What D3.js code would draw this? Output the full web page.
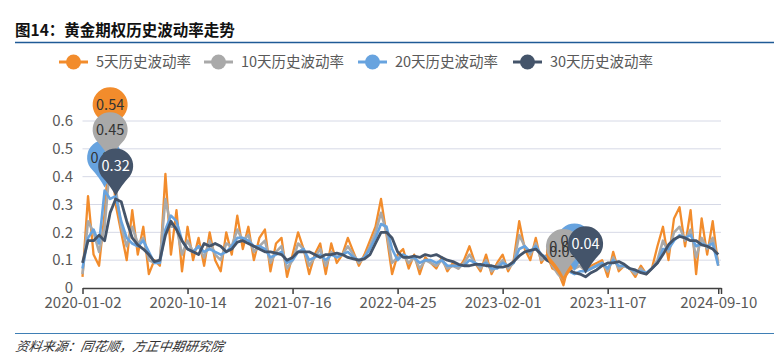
<!DOCTYPE html>
<html>
<head>
<meta charset="utf-8">
<script src="https://cdn.jsdelivr.net/npm/d3@7"></script>
<style>
  body { margin: 0; background: #fff; }
  svg { display: block; font-family: "Noto Sans CJK SC", "Noto Sans", sans-serif; }
</style>
</head>
<body>
<svg width="784" height="360"></svg>
<script>
// Chart data (sampled about every 10 trading days)
const seriesNames = ["5天历史波动率", "10天历史波动率", "20天历史波动率", "30天历史波动率"]
const seriesColors = ["#f28c2c", "#a9a9a9", "#67a3df", "#44546a"]

const dateLabels = ["2020-01-02", "2020-10-14", "2021-07-16", "2022-04-25", "2023-02-01", "2023-11-07", "2024-09-10"]
const dateLabelIndex = [0, 19, 38, 57, 76, 95, 115]

const yTicks = [0, 0.1, 0.2, 0.3, 0.4, 0.5, 0.6]

const vol5 = [0.04, 0.33, 0.12, 0.08, 0.27, 0.54, 0.30, 0.20, 0.10, 0.28,
    0.12, 0.22, 0.05, 0.10, 0.08, 0.41, 0.12, 0.28, 0.06, 0.22,
    0.10, 0.18, 0.08, 0.20, 0.10, 0.06, 0.20, 0.12, 0.26, 0.14,
    0.22, 0.10, 0.18, 0.21, 0.06, 0.16, 0.18, 0.04, 0.12, 0.20,
    0.14, 0.05, 0.12, 0.16, 0.05, 0.16, 0.09, 0.12, 0.18, 0.13,
    0.08, 0.12, 0.17, 0.22, 0.32, 0.19, 0.05, 0.12, 0.14, 0.07,
    0.12, 0.05, 0.11, 0.09, 0.07, 0.11, 0.06, 0.09, 0.07, 0.10,
    0.15, 0.09, 0.06, 0.12, 0.05, 0.09, 0.12, 0.06, 0.10, 0.24,
    0.14, 0.10, 0.18, 0.09, 0.12, 0.07, 0.06, 0.01, 0.09, 0.07,
    0.10, 0.06, 0.08, 0.09, 0.10, 0.04, 0.13, 0.06, 0.08, 0.07,
    0.04, 0.08, 0.05, 0.07, 0.15, 0.22, 0.10, 0.25, 0.29, 0.15,
    0.28, 0.05, 0.25, 0.12, 0.24, 0.08]

const vol10 = [0.05, 0.24, 0.20, 0.13, 0.22, 0.45, 0.36, 0.22, 0.15, 0.22,
    0.16, 0.18, 0.10, 0.09, 0.10, 0.32, 0.22, 0.22, 0.12, 0.17,
    0.13, 0.15, 0.11, 0.17, 0.12, 0.10, 0.16, 0.15, 0.21, 0.17,
    0.19, 0.13, 0.15, 0.17, 0.09, 0.13, 0.15, 0.07, 0.10, 0.16,
    0.14, 0.08, 0.11, 0.14, 0.08, 0.13, 0.11, 0.12, 0.15, 0.12,
    0.09, 0.11, 0.15, 0.20, 0.27, 0.20, 0.09, 0.11, 0.12, 0.09,
    0.11, 0.07, 0.10, 0.09, 0.08, 0.10, 0.07, 0.08, 0.07, 0.09,
    0.12, 0.09, 0.07, 0.10, 0.06, 0.08, 0.10, 0.07, 0.09, 0.19,
    0.15, 0.12, 0.16, 0.10, 0.11, 0.08, 0.05, 0.03, 0.07, 0.07,
    0.08, 0.06, 0.07, 0.08, 0.09, 0.06, 0.11, 0.07, 0.08, 0.07,
    0.05, 0.07, 0.05, 0.07, 0.10, 0.17, 0.13, 0.20, 0.22, 0.17,
    0.21, 0.11, 0.18, 0.14, 0.18, 0.09]

const vol20 = [0.07, 0.18, 0.21, 0.16, 0.35, 0.32, 0.33, 0.24, 0.18, 0.16,
    0.15, 0.17, 0.13, 0.09, 0.09, 0.21, 0.26, 0.24, 0.17, 0.14,
    0.13, 0.15, 0.13, 0.14, 0.13, 0.12, 0.13, 0.15, 0.18, 0.18,
    0.17, 0.15, 0.15, 0.14, 0.11, 0.12, 0.13, 0.09, 0.10, 0.13,
    0.14, 0.10, 0.11, 0.12, 0.10, 0.12, 0.11, 0.12, 0.13, 0.11,
    0.10, 0.11, 0.14, 0.18, 0.23, 0.22, 0.14, 0.10, 0.12, 0.11,
    0.11, 0.09, 0.10, 0.10, 0.09, 0.10, 0.08, 0.08, 0.08, 0.08,
    0.10, 0.09, 0.08, 0.09, 0.07, 0.07, 0.09, 0.08, 0.09, 0.14,
    0.15, 0.13, 0.15, 0.12, 0.11, 0.09, 0.07, 0.06, 0.06, 0.05,
    0.06, 0.06, 0.07, 0.08, 0.09, 0.07, 0.10, 0.08, 0.08, 0.07,
    0.06, 0.06, 0.055, 0.07, 0.09, 0.14, 0.14, 0.17, 0.19, 0.18,
    0.19, 0.15, 0.16, 0.15, 0.16, 0.08]

const vol30 = [0.09, 0.17, 0.17, 0.19, 0.17, 0.27, 0.32, 0.31, 0.24, 0.18,
    0.155, 0.14, 0.12, 0.095, 0.10, 0.19, 0.24, 0.21, 0.17, 0.14,
    0.13, 0.12, 0.16, 0.15, 0.16, 0.15, 0.13, 0.14, 0.165, 0.17,
    0.16, 0.15, 0.14, 0.13, 0.13, 0.125, 0.12, 0.10, 0.11, 0.13,
    0.13, 0.13, 0.12, 0.11, 0.12, 0.12, 0.125, 0.12, 0.11, 0.105,
    0.10, 0.105, 0.12, 0.16, 0.20, 0.20, 0.18, 0.13, 0.11, 0.11,
    0.115, 0.11, 0.12, 0.115, 0.12, 0.11, 0.10, 0.095, 0.085, 0.08,
    0.08, 0.085, 0.085, 0.08, 0.08, 0.075, 0.075, 0.08, 0.095, 0.115,
    0.13, 0.135, 0.14, 0.12, 0.10, 0.09, 0.08, 0.07, 0.065, 0.055,
    0.05, 0.04, 0.055, 0.065, 0.08, 0.09, 0.09, 0.095, 0.085, 0.07,
    0.065, 0.055, 0.05, 0.07, 0.09, 0.12, 0.155, 0.175, 0.185, 0.18,
    0.17, 0.17, 0.155, 0.15, 0.14, 0.12]

const seriesValues = [vol5, vol10, vol20, vol30]

// Layout
const svg = d3.select("svg")
const plotLeft = 82.5
const plotRight = 721
const plotTop = 121
const plotBottom = 288

const x = d3.scaleLinear().domain([0, 115.5]).range([plotLeft, plotRight])
const y = d3.scaleLinear().domain([0, 0.6]).range([plotBottom, plotTop])

// Title and frame lines
svg.append("text")
    .attr("x", 15)
    .attr("y", 36)
    .attr("font-size", 15.5)
    .attr("font-weight", "bold")
    .attr("fill", "#111")
    .text("图14：黄金期权历史波动率走势")

svg.append("line")
    .attr("x1", 15).attr("x2", 774)
    .attr("y1", 42.5).attr("y2", 42.5)
    .attr("stroke", "#1f5a96")
    .attr("stroke-width", 1.5)

svg.append("line")
    .attr("x1", 15).attr("x2", 774)
    .attr("y1", 333.5).attr("y2", 333.5)
    .attr("stroke", "#3f7fb5")
    .attr("stroke-width", 1)

svg.append("text")
    .attr("x", 15)
    .attr("y", 351)
    .attr("font-size", 13)
    .attr("font-style", "italic")
    .attr("fill", "#333")
    .attr("transform", "skewX(-10) translate(62,0)")
    .text("资料来源：同花顺，方正中期研究院")

// Legend
const legendX = [59, 204, 358, 513]
const legend = svg.append("g")
seriesNames.forEach((name, i) => {
    const g = legend.append("g").attr("transform", `translate(${legendX[i]},62)`)
    g.append("line")
        .attr("x1", 0).attr("x2", 29)
        .attr("stroke", seriesColors[i])
        .attr("stroke-width", 3)
    g.append("circle")
        .attr("cx", 14.5)
        .attr("r", 7.5)
        .attr("fill", seriesColors[i])
    g.append("text")
        .attr("x", 37)
        .attr("dy", "0.35em")
        .attr("font-size", 14.5)
        .attr("fill", "#595959")
        .text(name)
})

// Grid
svg.append("g")
    .selectAll("line")
    .data(yTicks.slice(1))
    .enter()
    .append("line")
    .attr("x1", plotLeft).attr("x2", plotRight)
    .attr("y1", d => y(d)).attr("y2", d => y(d))
    .attr("stroke", "#d6d9e6")
    .attr("stroke-width", 1)

// Y axis labels
svg.append("g")
    .selectAll("text")
    .data(yTicks)
    .enter()
    .append("text")
    .attr("x", 73)
    .attr("y", d => y(d))
    .attr("dy", "0.35em")
    .attr("text-anchor", "end")
    .attr("font-size", 15)
    .attr("fill", "#595959")
    .text(d => d === 0 ? "0" : d.toFixed(1))

// Lines
const lineGen = d3.line()
    .x((d, i) => x(i))
    .y(d => y(d))

const lineWidths = [2.3, 2.6, 2.6, 2.8]
svg.append("g")
    .selectAll("path")
    .data(seriesValues)
    .enter()
    .append("path")
    .attr("d", d => lineGen(d))
    .attr("fill", "none")
    .attr("stroke", (d, i) => seriesColors[i])
    .attr("stroke-width", (d, i) => lineWidths[i])
    .attr("stroke-linejoin", "round")

// X axis
const xAxis = d3.axisBottom(x)
    .tickValues(dateLabelIndex.concat([115.5]))
    .tickFormat(d => {
        const k = dateLabelIndex.indexOf(d)
        return k >= 0 ? dateLabels[k] : ""
    })
    .tickSize(6)
    .tickSizeOuter(0)

const xAxisG = svg.append("g")
    .attr("transform", `translate(0,${plotBottom})`)
    .call(xAxis)
xAxisG.select(".domain").attr("stroke", "#404040").attr("stroke-width", 1.5)
xAxisG.selectAll(".tick line").attr("stroke", "#404040").attr("stroke-width", 1.5)
xAxisG.selectAll(".tick text")
    .attr("font-size", 15)
    .attr("font-family", "'Noto Sans CJK SC', 'Noto Sans', sans-serif")
    .attr("fill", "#595959")
    .attr("dy", "0.75em")

// Max / min pins
function pinPath(cx, tipY) {
    const r = 17.5
    const cy = tipY - 30
    const tx = 14.2, ty = 10.2
    return `M${cx},${tipY}` +
        `Q${cx + 5},${cy + 20} ${cx + tx},${cy + ty}` +
        `A${r},${r} 0 1 0 ${cx - tx},${cy + ty}` +
        `Q${cx - 5},${cy + 20} ${cx},${tipY}Z`
}

const pins = seriesValues.map((vals, s) => {
    const maxI = d3.maxIndex(vals)
    const minI = d3.minIndex(vals)
    return [maxI, minI].map(i => ({ s: s, i: i, v: vals[i] }))
})

const pinLayer = svg.append("g")
function drawPins(list) {
    pinLayer.append("g")
        .selectAll("path")
        .data(list)
        .enter()
        .append("path")
        .attr("d", p => pinPath(x(p.i), y(p.v) - 3))
        .attr("fill", p => seriesColors[p.s])
}
function drawPinLabels(list) {
    pinLayer.append("g")
        .selectAll("text")
        .data(list)
        .enter()
        .append("text")
        .attr("x", p => x(p.i))
        .attr("y", p => y(p.v) - 33)
        .attr("dy", "0.35em")
        .attr("text-anchor", "middle")
        .attr("font-size", 14.5)
        .attr("fill", p => p.s === 3 ? "#fff" : "#333")
        .text(p => p.v.toFixed(2))
}

const lightPins = [pins[0], pins[2], pins[1]].flat()
drawPins(lightPins)
drawPinLabels(lightPins)
drawPins(pins[3])
drawPinLabels(pins[3])
</script>
</body>
</html>
